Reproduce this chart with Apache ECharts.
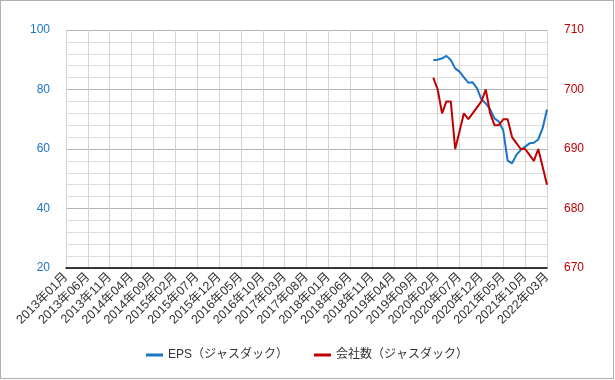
<!DOCTYPE html>
<html><head><meta charset="utf-8">
<script src="https://cdn.jsdelivr.net/npm/echarts@6/dist/echarts.min.js"></script>
<style>html,body{margin:0;padding:0;background:#fff}#c{position:absolute;left:0;top:0;width:612px;height:377px;border:1px solid #b0b0b0}</style>
</head><body><div id="c"></div>
<script>
const startYear = 2013, startMonth = 1, monthCount = 111;
const categories = [];
for (let i = 0; i < monthCount; i++) {
  const y = startYear + Math.floor((startMonth - 1 + i) / 12);
  const m = (startMonth - 1 + i) % 12 + 1;
  categories.push(y + '年' + String(m).padStart(2, '0') + '月');
}
const firstDataMonth = '2020年01月';
const epsValues = [89.9, 90.0, 90.5, 91.3, 89.9, 87.1, 86.0, 84.1, 82.3, 82.4, 80.4, 76.7, 75.3, 73.3, 70.3, 69.2, 66.2, 56.1, 55.2, 58.0, 59.7, 60.8, 61.9, 62.1, 63.2, 67.0, 73.3];
const companyValues = [702, 700, 696, 698, 698, 690, 693, 696, 695, 696, 697, 698, 700, 696, 694, 694, 695, 695, 692, 691, 690, 690, 689, 688, 690, 687, 684];
const leftTicks = [20, 40, 60, 80, 100];
const rightTicks = [670, 680, 690, 700, 710];

const offset = categories.indexOf(firstDataMonth);
function pad(arr) {
  const out = new Array(categories.length).fill(null);
  arr.forEach((v, i) => { out[offset + i] = v; });
  return out;
}
const BLUE = '#1a75c6', RED = '#c00000';
const FONT = '"Liberation Sans", Arial, "Noto Sans CJK JP", sans-serif';
const chart = echarts.init(document.getElementById('c'));
chart.setOption({
  animation: false,
  textStyle: { fontFamily: FONT },
  grid: { left: 65, right: 66, top: 29, bottom: 110 },
  legend: {
    bottom: 12, left: 'center', itemGap: 26, itemWidth: 17, itemHeight: 3, icon: 'rect',
    textStyle: { fontSize: 12, color: '#333', fontFamily: FONT },
    data: ['EPS（ジャスダック）', '会社数（ジャスダック）']
  },
  xAxis: {
    type: 'category', data: categories, boundaryGap: false,
    axisLine: { lineStyle: { color: '#000', width: 1.5 } },
    axisTick: { show: false },
    axisLabel: { interval: 4, rotate: 45, fontSize: 12.5, color: '#333', margin: 7 },
    splitLine: { show: true, interval: 4, lineStyle: { color: '#d4d4d4' } }
  },
  yAxis: [{
    type: 'value', min: leftTicks[0], max: leftTicks[leftTicks.length - 1], interval: 20,
    position: 'left',
    axisLine: { show: false }, axisTick: { show: false },
    axisLabel: { color: BLUE, fontSize: 12, margin: 16 },
    splitLine: { lineStyle: { color: '#b4b4b4' } },
    minorTick: { show: false, splitNumber: 5 },
    minorSplitLine: { show: true, lineStyle: { color: '#dedede' } }
  }, {
    type: 'value', min: rightTicks[0], max: rightTicks[rightTicks.length - 1], interval: 10,
    position: 'right',
    axisLine: { show: false }, axisTick: { show: false },
    axisLabel: { color: RED, fontSize: 12, margin: 17 },
    splitLine: { show: false }
  }],
  series: [{
    name: 'EPS（ジャスダック）', type: 'line', yAxisIndex: 0, data: pad(epsValues),
    symbol: 'none', lineStyle: { color: BLUE, width: 2 }, itemStyle: { color: BLUE }
  }, {
    name: '会社数（ジャスダック）', type: 'line', yAxisIndex: 1, data: pad(companyValues),
    symbol: 'none', lineStyle: { color: RED, width: 2 }, itemStyle: { color: RED }
  }]
});
</script></body></html>
